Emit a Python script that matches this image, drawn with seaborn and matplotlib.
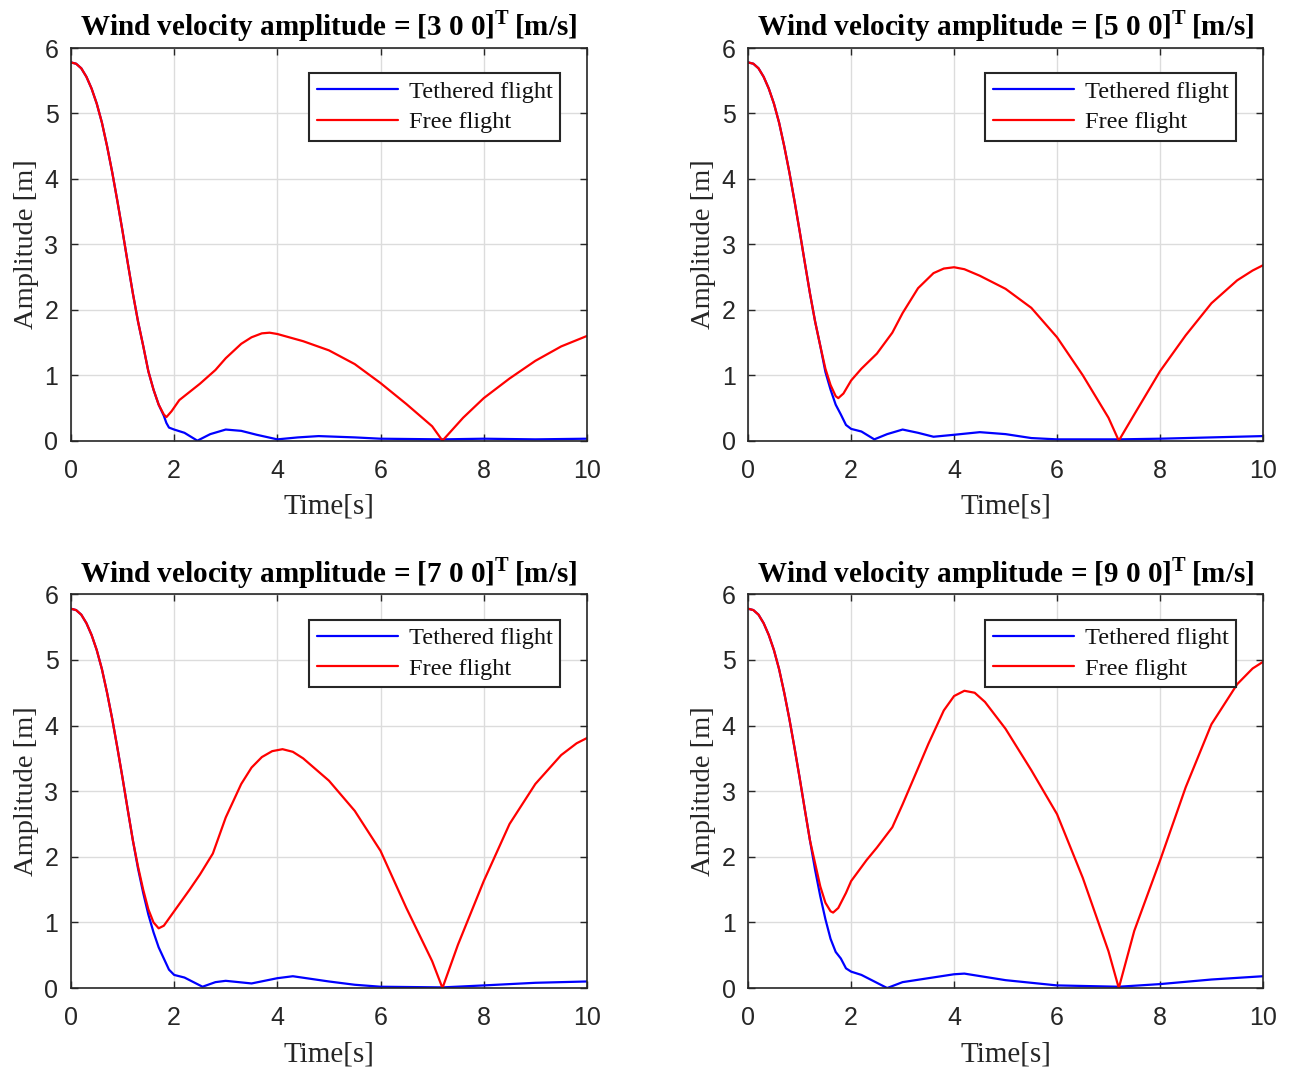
import matplotlib
matplotlib.use("Agg")
import matplotlib.pyplot as plt
import seaborn as sns
import numpy as np
import pandas as pd

# ---------------- data ----------------
t_head = [0.0, 0.1, 0.2, 0.3, 0.4, 0.5, 0.6, 0.7, 0.8, 0.9, 1.0, 1.1, 1.2]
amp_head = [5.78, 5.76, 5.69, 5.56, 5.38, 5.15, 4.86, 4.50, 4.10, 3.66, 3.20, 2.72, 2.25]

# wind 3 m/s
t_teth_3 = [1.3, 1.4, 1.5, 1.6, 1.7, 1.8, 1.85, 1.9, 2.0, 2.2, 2.45, 2.7, 3.0, 3.3, 3.6, 4.0, 4.4, 4.8, 5.5, 6.0, 7.2, 8.0, 9.0, 10.0]
teth_3 = [1.82, 1.45, 1.06, 0.78, 0.55, 0.38, 0.27, 0.20, 0.17, 0.12, 0.00, 0.10, 0.17, 0.15, 0.09, 0.02, 0.05, 0.07, 0.05, 0.03, 0.02, 0.03, 0.02, 0.03]
t_free_3 = [1.3, 1.4, 1.5, 1.6, 1.7, 1.8, 1.85, 1.95, 2.1, 2.5, 2.8, 3.0, 3.3, 3.5, 3.7, 3.85, 4.0, 4.5, 5.0, 5.5, 6.0, 6.5, 7.0, 7.2, 7.6, 8.0, 8.5, 9.0, 9.5, 10.0]
free_3 = [1.82, 1.45, 1.06, 0.78, 0.55, 0.40, 0.36, 0.45, 0.62, 0.87, 1.08, 1.26, 1.48, 1.58, 1.64, 1.65, 1.63, 1.52, 1.38, 1.17, 0.88, 0.56, 0.22, 0.00, 0.35, 0.65, 0.95, 1.22, 1.44, 1.60]

# wind 5 m/s
t_teth_5 = [1.3, 1.4, 1.5, 1.6, 1.7, 1.8, 1.9, 2.0, 2.2, 2.45, 2.7, 3.0, 3.3, 3.6, 4.0, 4.5, 5.0, 5.5, 6.0, 7.2, 8.0, 9.0, 10.0]
teth_5 = [1.82, 1.45, 1.05, 0.78, 0.55, 0.40, 0.24, 0.18, 0.14, 0.02, 0.10, 0.17, 0.12, 0.06, 0.09, 0.13, 0.10, 0.04, 0.02, 0.02, 0.03, 0.05, 0.07]
t_free_5 = [1.3, 1.4, 1.5, 1.6, 1.7, 1.75, 1.85, 2.0, 2.2, 2.5, 2.8, 3.0, 3.3, 3.6, 3.8, 4.0, 4.2, 4.5, 5.0, 5.5, 6.0, 6.5, 7.0, 7.2, 7.5, 8.0, 8.5, 9.0, 9.5, 9.8, 10.0]
free_5 = [1.82, 1.45, 1.10, 0.85, 0.68, 0.65, 0.72, 0.92, 1.10, 1.33, 1.65, 1.95, 2.33, 2.56, 2.63, 2.65, 2.62, 2.52, 2.32, 2.03, 1.58, 1.00, 0.35, 0.00, 0.40, 1.06, 1.61, 2.10, 2.45, 2.60, 2.68]

# wind 7 m/s
t_teth_7 = [1.3, 1.4, 1.5, 1.6, 1.7, 1.8, 1.9, 2.0, 2.2, 2.55, 2.8, 3.0, 3.5, 4.0, 4.3, 5.0, 5.5, 6.0, 7.2, 8.0, 9.0, 10.0]
teth_7 = [1.82, 1.45, 1.12, 0.85, 0.62, 0.45, 0.28, 0.20, 0.16, 0.02, 0.09, 0.11, 0.07, 0.15, 0.18, 0.10, 0.05, 0.02, 0.01, 0.04, 0.08, 0.10]
t_free_7 = [1.3, 1.4, 1.5, 1.6, 1.7, 1.8, 2.0, 2.3, 2.5, 2.75, 3.0, 3.3, 3.5, 3.7, 3.9, 4.1, 4.3, 4.5, 5.0, 5.5, 6.0, 6.5, 7.0, 7.2, 7.5, 8.0, 8.5, 9.0, 9.5, 9.8, 10.0]
free_7 = [1.85, 1.50, 1.20, 1.00, 0.91, 0.95, 1.17, 1.50, 1.73, 2.05, 2.60, 3.11, 3.36, 3.52, 3.61, 3.64, 3.60, 3.50, 3.16, 2.70, 2.09, 1.22, 0.41, 0.00, 0.66, 1.63, 2.50, 3.11, 3.55, 3.73, 3.81]

# wind 9 m/s
t_teth_9 = [1.3, 1.4, 1.5, 1.6, 1.7, 1.8, 1.9, 2.0, 2.2, 2.7, 3.0, 3.5, 4.0, 4.2, 5.0, 6.0, 7.2, 8.0, 9.0, 10.0]
teth_9 = [1.80, 1.40, 1.05, 0.75, 0.55, 0.45, 0.30, 0.25, 0.20, 0.00, 0.09, 0.15, 0.21, 0.22, 0.12, 0.04, 0.02, 0.06, 0.13, 0.18]
t_free_9 = [1.3, 1.4, 1.5, 1.6, 1.65, 1.75, 1.9, 2.0, 2.3, 2.5, 2.8, 3.0, 3.3, 3.5, 3.8, 4.0, 4.2, 4.4, 4.6, 5.0, 5.5, 6.0, 6.5, 7.0, 7.2, 7.5, 8.0, 8.5, 9.0, 9.5, 9.8, 10.0]
free_9 = [1.90, 1.55, 1.30, 1.17, 1.15, 1.22, 1.45, 1.63, 1.95, 2.14, 2.45, 2.80, 3.35, 3.72, 4.23, 4.45, 4.53, 4.50, 4.36, 3.95, 3.32, 2.65, 1.68, 0.56, 0.00, 0.87, 1.94, 3.06, 4.02, 4.63, 4.87, 4.97]

wind_labels = ["3 0 0", "5 0 0", "7 0 0", "9 0 0"]
x_ticks = [0, 2, 4, 6, 8, 10]
y_ticks = [0, 1, 2, 3, 4, 5, 6]

panels = [
    (t_teth_3, teth_3, t_free_3, free_3),
    (t_teth_5, teth_5, t_free_5, free_5),
    (t_teth_7, teth_7, t_free_7, free_7),
    (t_teth_9, teth_9, t_free_9, free_9),
]

# ---------------- style ----------------
sns.set_theme(style="white")
plt.rcParams["font.family"] = ["Liberation Serif", "DejaVu Serif"]
plt.rcParams["mathtext.fontset"] = "custom"
plt.rcParams["mathtext.rm"] = "Liberation Serif"
plt.rcParams["mathtext.bf"] = "Liberation Serif:bold"

fig = plt.figure(figsize=(12.9, 10.67), dpi=100)
positions = [
    [0.055, 0.587, 0.400, 0.368],
    [0.580, 0.587, 0.399, 0.368],
    [0.055, 0.074, 0.400, 0.369],
    [0.580, 0.074, 0.399, 0.369],
]
dark = "#262626"

for pos, lab, (tt, tv, ft, fv) in zip(positions, wind_labels, panels):
    ax = fig.add_axes(pos)
    df_t = pd.DataFrame({"t": t_head + tt, "a": amp_head + tv})
    df_f = pd.DataFrame({"t": t_head + ft, "a": amp_head + fv})
    sns.lineplot(data=df_t, x="t", y="a", color="#0000ff", lw=1.6,
                 label="Tethered flight", ax=ax, sort=False)
    sns.lineplot(data=df_f, x="t", y="a", color="#ff0000", lw=1.6,
                 label="Free flight", ax=ax, sort=False)
    ax.set_xlim(0, 10)
    ax.set_ylim(0, 6)
    ax.set_xticks(x_ticks)
    ax.set_yticks(y_ticks)
    ax.grid(True, color="#dcdcdc", lw=1.0)
    ax.set_axisbelow(True)
    ax.tick_params(axis="x", pad=13)
    ax.tick_params(axis="y", pad=9)
    ax.tick_params(direction="in", length=5, width=1, colors=dark,
                   top=True, right=True, bottom=True, left=True,
                   labelsize=18)
    for tl in ax.get_xticklabels() + ax.get_yticklabels():
        tl.set_family(["Liberation Sans", "DejaVu Sans"])
    for sp in ax.spines.values():
        sp.set_color(dark)
        sp.set_linewidth(1.2)
    ax.set_xlabel("Time[s]", fontsize=21, color=dark, labelpad=8)
    ax.set_ylabel("Amplitude [m]", fontsize=20.5, color=dark, labelpad=4)
    ax.set_title(r"Wind velocity amplitude = [" + lab + r"]$^{\mathbf{T}}\,$[m/s]",
                 fontsize=21, fontweight="bold", color="black", pad=9)
    leg = ax.legend(loc="upper right", bbox_to_anchor=(0.948, 0.936),
                    borderaxespad=0, fancybox=False, fontsize=17.6,
                    handlelength=3.3, handletextpad=0.45, borderpad=0.31,
                    labelspacing=0.34, frameon=True)
    leg.get_frame().set_edgecolor(dark)
    leg.get_frame().set_linewidth(1.5)
    leg.get_frame().set_alpha(1)
    for txt in leg.get_texts():
        txt.set_color("#111111")

fig.savefig("out.png", dpi=100)
